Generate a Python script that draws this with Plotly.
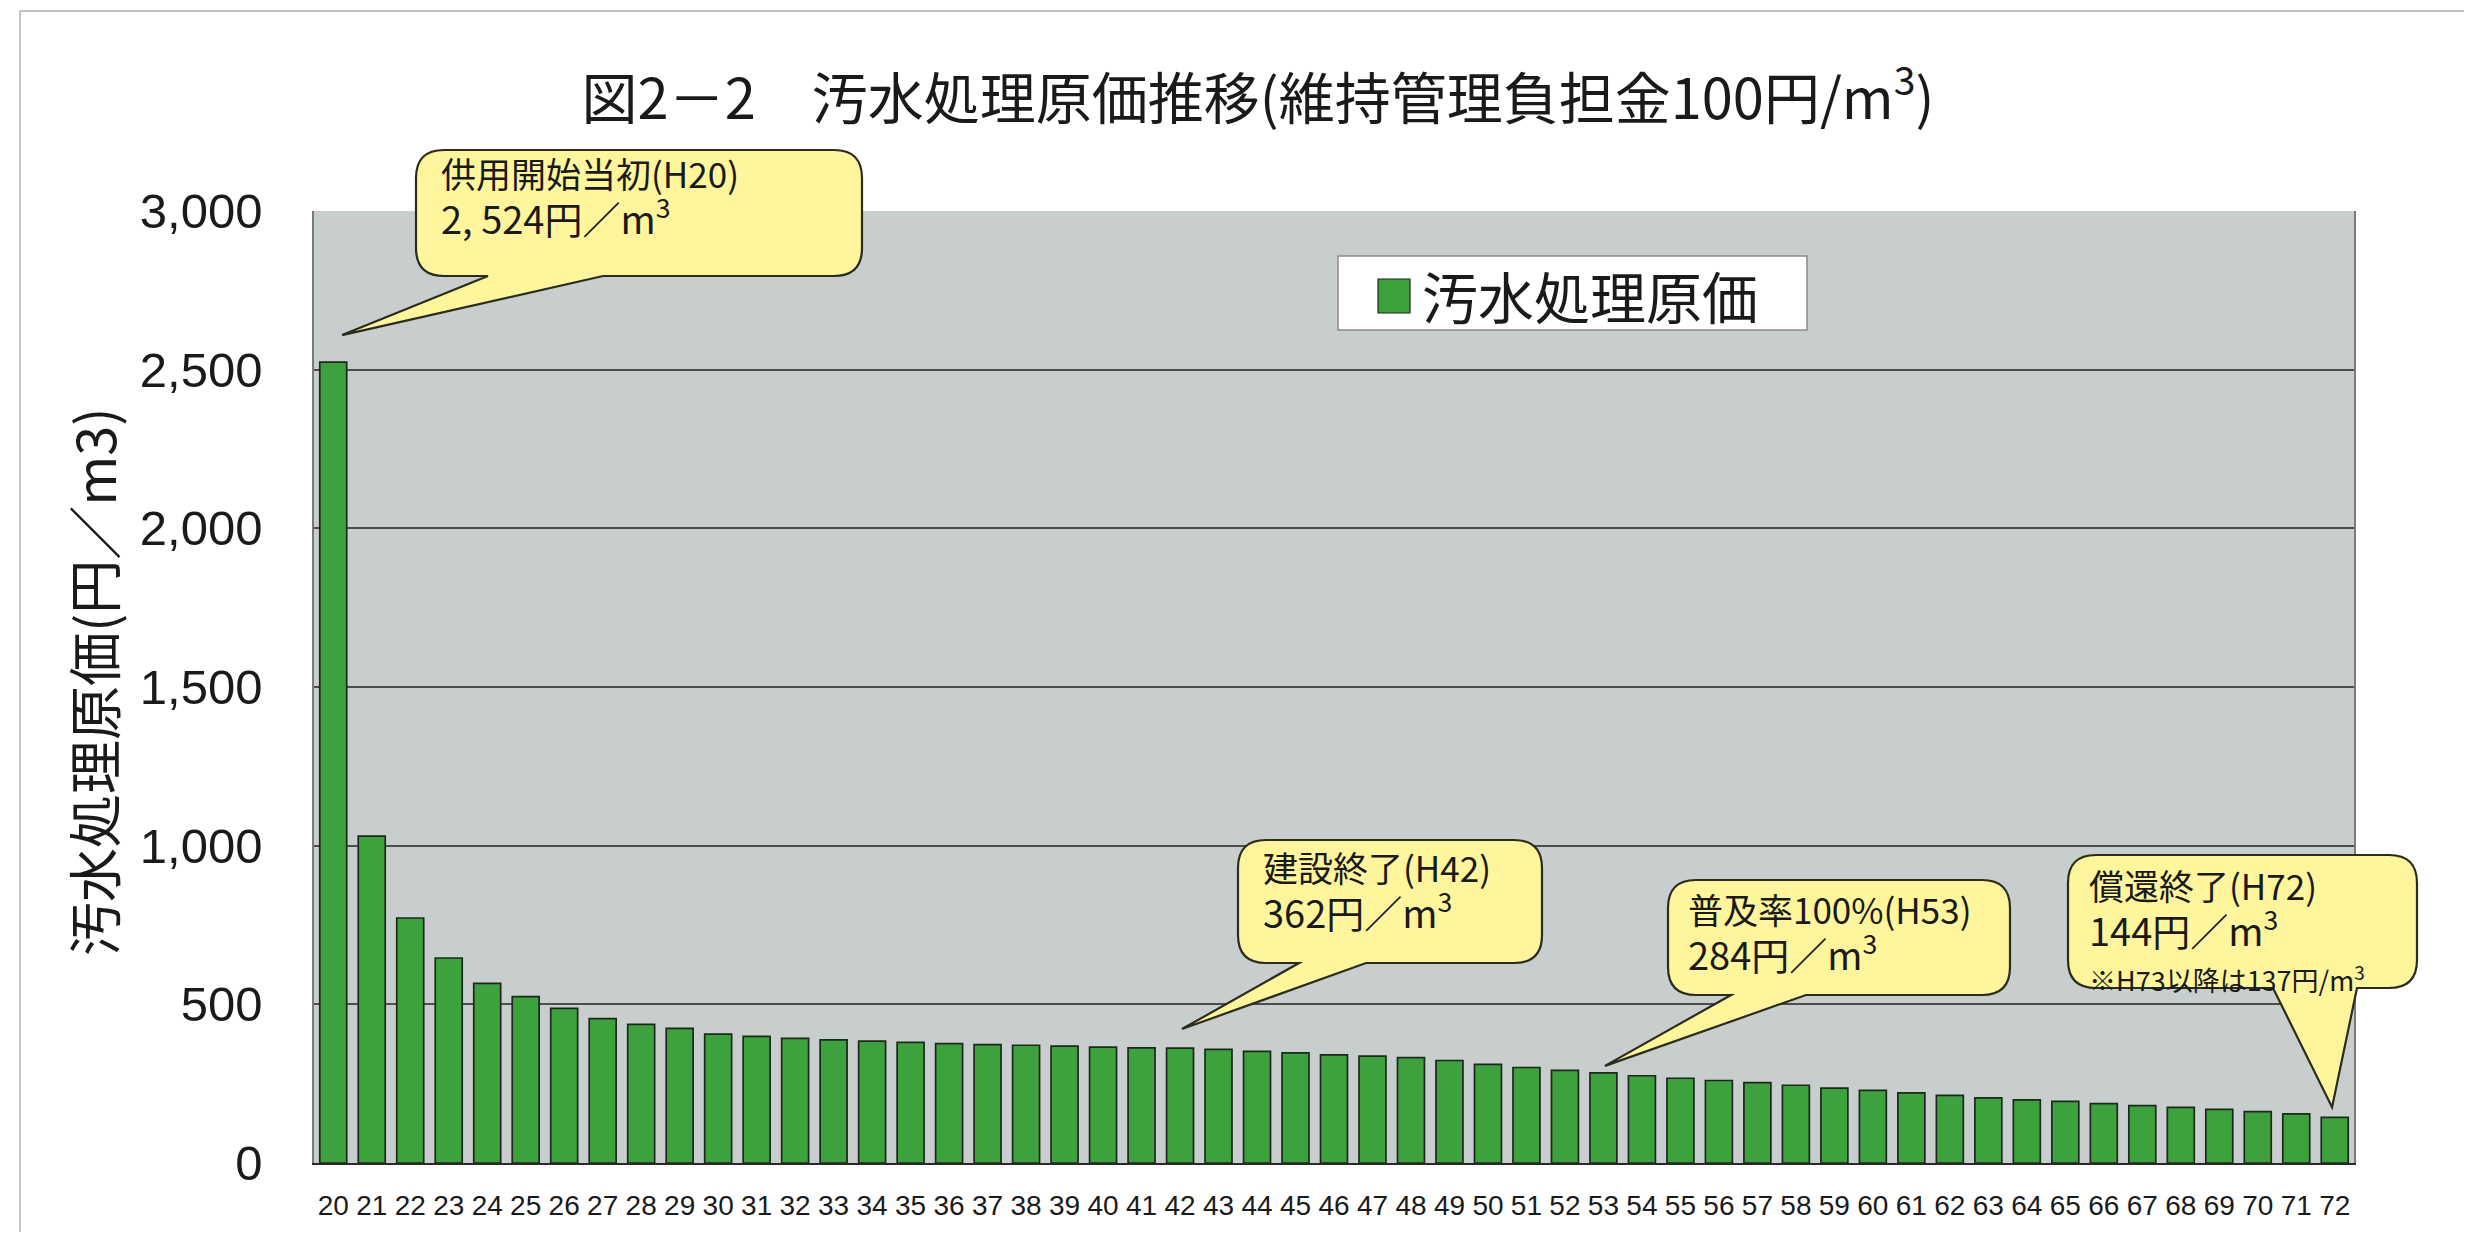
import plotly.graph_objects as go

# ---------------- data ----------------
years = ["20", "21", "22", "23", "24", "25", "26", "27", "28", "29",
         "30", "31", "32", "33", "34", "35", "36", "37", "38", "39",
         "40", "41", "42", "43", "44", "45", "46", "47", "48", "49",
         "50", "51", "52", "53", "54", "55", "56", "57", "58", "59",
         "60", "61", "62", "63", "64", "65", "66", "67", "68", "69",
         "70", "71", "72"]
cost = [2524, 1030, 772, 646, 566, 524, 487, 455, 437, 424,
        406, 399, 393, 388, 384, 380, 376, 373, 371, 368,
        365, 363, 362, 358, 352, 347, 341, 337, 332, 323,
        311, 301, 292, 284, 275, 267, 260, 253, 245, 236,
        229, 221, 213, 205, 199, 194, 187, 181, 175, 169,
        162, 155, 144]
y_ticks = [0, 500, 1000, 1500, 2000, 2500, 3000]

series_name = "汚水処理原価"
title_text = "図2－2　汚水処理原価推移(維持管理負担金100円/m<sup>3</sup>)"
y_title = "汚水処理原価(円／m3)"

callout_years = ["20", "42", "53", "72"]
callout_heads = ["供用開始当初(H20)", "建設終了(H42)", "普及率100%(H53)", "償還終了(H72)"]
callout_values = ["2, 524円／m<sup>3</sup>", "362円／m<sup>3</sup>", "284円／m<sup>3</sup>", "144円／m<sup>3</sup>"]
callout_notes = ["", "", "", "※H73以降は137円/m<sup>3</sup>"]

# ---------------- layout geometry (page pixels) ----------------
W, H = 2472, 1240
OFF = 8                      # default body margin of the html page
FW, FH = W - 2 * OFF, H - 2 * OFF
PL, PR, PT, PB = 314, 2354, 211, 1163
YMAX = 3000
N = len(years)

def px(x):
    return (x - PL) / (PR - PL)

def py(y):
    return (PB - y) / (PB - PT)

def data_px(idx, v):
    # data -> page pixel through the axis scales set below (range -0.5..N-0.5, 0..YMAX)
    x = PL + (idx + 0.5) / N * (PR - PL)
    y = PB - v / YMAX * (PB - PT)
    return x, y

# callout boxes: (x0, y0, x1, y1, base0, base1), tip offsets (idx, value)
boxes = [
    (416, 150, 862, 276, 488, 603),
    (1238, 840, 1542, 963, 1299, 1366),
    (1668, 880, 2010, 995, 1731, 1806),
    (2068, 855, 2417, 988, 2273, 2357),
]
tip_offsets = [(0.23, 85), (0.05, 60), (0.04, 22), (-0.07, 32)]
text_left = [440, 1262, 1687, 2088]
text_center = [196, 890, 932, 929]

def bubble(x0, y0, x1, y1, b0, b1, tx, ty, r=28):
    def P(x, y):
        return f"{px(x):.5f},{py(y):.5f}"
    d = f"M{P(x0 + r, y0)} L{P(x1 - r, y0)} Q{P(x1, y0)} {P(x1, y0 + r)} "
    d += f"L{P(x1, y1 - r)} Q{P(x1, y1)} {P(x1 - r, y1)} "
    d += f"L{P(b1, y1)} L{P(tx, ty)} L{P(b0, y1)} "
    d += f"L{P(x0 + r, y1)} Q{P(x0, y1)} {P(x0, y1 - r)} "
    d += f"L{P(x0, y0 + r)} Q{P(x0, y0)} {P(x0 + r, y0)} Z"
    return d

CJK = "Noto Sans CJK JP, sans-serif"
LAT = "Liberation Sans, Arial, sans-serif"
INK = "#1A1A1A"

fig = go.Figure()
fig.add_trace(go.Bar(
    x=years, y=cost, name=series_name,
    marker=dict(color="#3DA23D", line=dict(color="#1C281C", width=1.7)),
    showlegend=False,
))

shapes = []
annotations = []

# page frame lines (scan border)
shapes.append(dict(type="line", xref="paper", yref="paper",
                   x0=px(20), x1=px(W), y0=py(11), y1=py(11),
                   line=dict(color="#C4C4C4", width=2)))
shapes.append(dict(type="line", xref="paper", yref="paper",
                   x0=px(20), x1=px(20), y0=py(11), y1=py(H),
                   line=dict(color="#C4C4C4", width=2)))

# callouts
for i, cy in enumerate(callout_years):
    idx = years.index(cy)
    dxo, dvo = tip_offsets[i]
    tx, ty = data_px(idx + dxo, cost[idx] + dvo)
    x0, y0, x1, y1, b0, b1 = boxes[i]
    shapes.append(dict(type="path", xref="paper", yref="paper",
                       path=bubble(x0, y0, x1, y1, b0, b1, tx, ty),
                       fillcolor="#FFF59C", line=dict(color="#2B2B1E", width=2.2),
                       layer="above"))
    txt = callout_heads[i] + "<br>" + "<span style='font-size:38px'>" + callout_values[i] + "</span>"
    if callout_notes[i]:
        txt += "<br><span style='font-size:27px'>" + callout_notes[i] + "</span>"
    annotations.append(dict(xref="paper", yref="paper", x=px(text_left[i]), y=py(text_center[i]),
                            xanchor="left", yanchor="middle", showarrow=False, align="left",
                            borderpad=0, text=txt,
                            font=dict(family=CJK, size=35, color=INK)))

# legend (drawn as box)
shapes.append(dict(type="rect", xref="paper", yref="paper",
                   x0=px(1338), x1=px(1807), y0=py(256), y1=py(330),
                   fillcolor="white", line=dict(color="#8A8A8A", width=1.5), layer="above"))
shapes.append(dict(type="rect", xref="paper", yref="paper",
                   x0=px(1378), x1=px(1410), y0=py(279), y1=py(313),
                   fillcolor="#3DA23D", line=dict(color="#1C281C", width=1.2), layer="above"))
annotations.append(dict(xref="paper", yref="paper", x=px(1420), y=py(294),
                        xanchor="left", yanchor="middle", showarrow=False,
                        text=series_name, font=dict(family=CJK, size=56, color=INK)))

# y-axis title
annotations.append(dict(xref="paper", yref="paper", x=px(92), y=py(682),
                        xanchor="center", yanchor="middle", showarrow=False, textangle=-90,
                        text=y_title, font=dict(family=CJK, size=54, color=INK)))

fig.update_layout(
    width=FW, height=FH,
    margin=dict(l=PL - OFF, r=FW - (PR - OFF), t=PT - OFF, b=FH - (PB - OFF), pad=0),
    paper_bgcolor="white",
    plot_bgcolor="#C8CECD",
    bargap=0.3,
    title=dict(text=title_text, x=(1258 - OFF) / FW, xref="container", xanchor="center",
               y=1 - (99 - OFF) / FH, yref="container", yanchor="middle",
               font=dict(family=CJK, size=56, color=INK)),
    xaxis=dict(type="category", range=[-0.5, N - 0.5], showgrid=False,
               tickfont=dict(family=LAT, size=28, color=INK),
               ticks="", ticklabelstandoff=16, tickangle=0,
               showline=True, linecolor="#2A2A2A", linewidth=2, mirror=False),
    yaxis=dict(range=[0, YMAX], tickvals=y_ticks, tickformat=",",
               tickfont=dict(family=LAT, size=49, color=INK),
               ticks="", ticklabelstandoff=40,
               showgrid=True, gridcolor="#4E4E4E", gridwidth=1.5,
               zeroline=False,
               showline=True, linecolor="#7A7A7A", linewidth=1.5, mirror=True),
    shapes=shapes,
    annotations=annotations,
)

fig.write_html("out.html")
